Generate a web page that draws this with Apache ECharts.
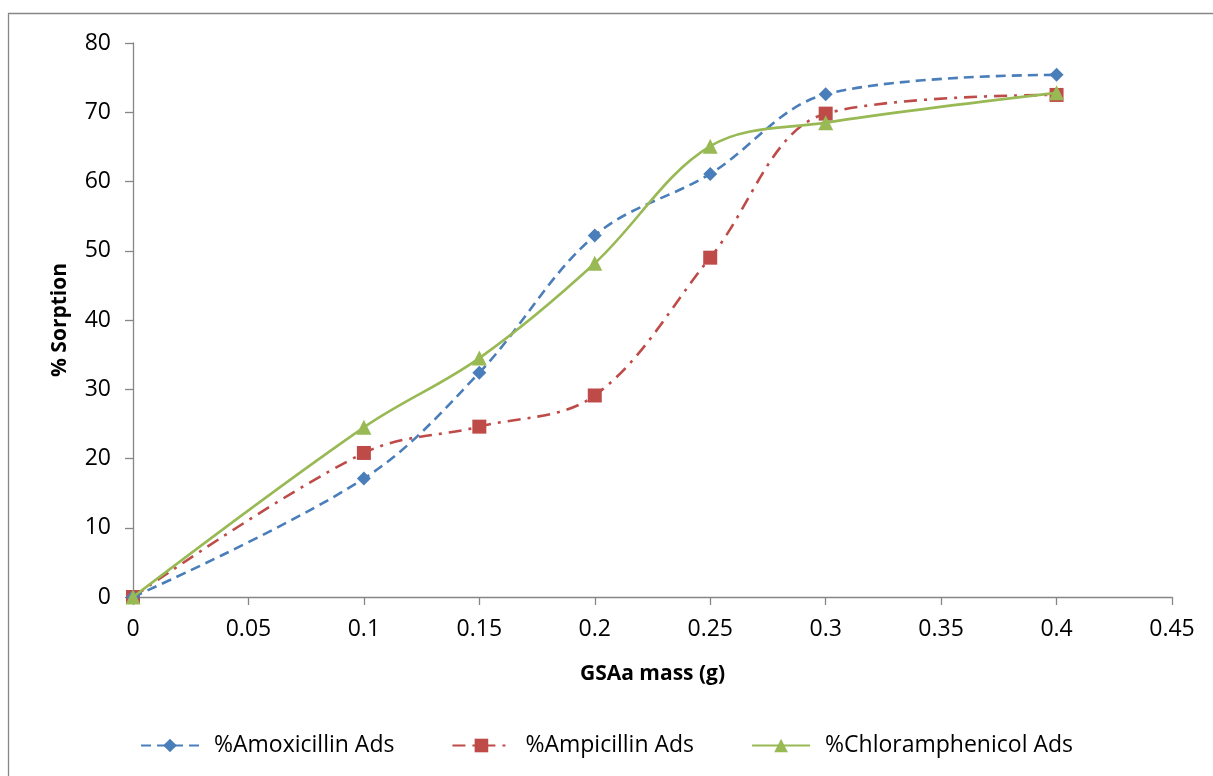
<!DOCTYPE html>
<html>
<head>
<meta charset="utf-8">
<script src="https://cdn.jsdelivr.net/npm/echarts@6/dist/echarts.min.js"></script>
<style>
  html, body { margin: 0; padding: 0; background: #fff; }
  #chart { width: 1213px; height: 776px; }
</style>
</head>
<body>
<div id="chart"></div>
<script>
// GSAa adsorbent mass (g)
const mass = [0, 0.1, 0.15, 0.2, 0.25, 0.3, 0.4];
// % sorption for each antibiotic
const amoxicillin = [0, 17.1, 32.4, 52.2, 61.1, 72.6, 75.4];
const ampicillin = [0, 20.8, 24.6, 29.1, 49.0, 69.8, 72.5];
const chloramphenicol = [0, 24.5, 34.5, 48.2, 65.1, 68.5, 72.8];

const seriesNames = ['%Amoxicillin Ads', '%Ampicillin Ads', '%Chloramphenicol Ads'];

const pairs = ys => mass.map((m, i) => [m, ys[i]]);

const font = 'Open Sans, Lato, sans-serif';
const axisGrey = '#868686';

const chart = echarts.init(document.getElementById('chart'));
chart.setOption({
  backgroundColor: '#fff',
  animation: false,
  graphic: [{
    type: 'rect',
    shape: { x: 8.5, y: 13.5, width: 1300, height: 900 },
    style: { fill: 'none', stroke: '#878787', lineWidth: 1.3 },
    silent: true
  }],
  grid: { left: 133, right: 41, top: 43, bottom: 179 },
  legend: {
    bottom: 14,
    left: 'center',
    itemGap: 57,
    itemWidth: 58,
    itemHeight: 17,
    textStyle: { fontFamily: font, fontSize: 23, color: '#000', padding: [0, 0, 0, 10] },
    data: seriesNames
  },
  xAxis: {
    type: 'value',
    min: 0, max: 0.45, interval: 0.05,
    name: 'GSAa mass (g)',
    nameLocation: 'middle',
    nameGap: 67,
    nameTextStyle: { fontFamily: font, fontSize: 21, fontWeight: 'bold', color: '#000' },
    axisLine: { show: true, lineStyle: { color: axisGrey, width: 1.3 } },
    axisTick: { show: true, length: 8, lineStyle: { color: axisGrey, width: 1.3 } },
    axisLabel: { fontFamily: font, fontSize: 23, color: '#000', margin: 21 },
    splitLine: { show: false }
  },
  yAxis: {
    type: 'value',
    min: 0, max: 80, interval: 10,
    name: '% Sorption',
    nameLocation: 'middle',
    nameGap: 62,
    nameRotate: 90,
    nameTextStyle: { fontFamily: font, fontSize: 21, fontWeight: 'bold', color: '#000' },
    axisLine: { show: true, lineStyle: { color: axisGrey, width: 1.3 } },
    axisTick: { show: true, length: 8, lineStyle: { color: axisGrey, width: 1.3 } },
    axisLabel: { fontFamily: font, fontSize: 23, color: '#000', margin: 22 },
    splitLine: { show: false }
  },
  series: [
    {
      name: seriesNames[0],
      type: 'line',
      smooth: 0.35,
      data: pairs(amoxicillin),
      symbol: 'diamond',
      symbolSize: 14,
      itemStyle: { color: '#4a7ebb' },
      lineStyle: { color: '#4a7ebb', width: 2.6, type: [10, 6] },
      z: 3
    },
    {
      name: seriesNames[1],
      type: 'line',
      smooth: 0.35,
      data: pairs(ampicillin),
      symbol: 'rect',
      symbolSize: 14,
      itemStyle: { color: '#be4b48' },
      lineStyle: { color: '#be4b48', width: 2.6, type: [13, 7, 3, 7] },
      z: 2
    },
    {
      name: seriesNames[2],
      type: 'line',
      smooth: 0.35,
      data: pairs(chloramphenicol),
      symbol: 'triangle',
      symbolSize: 15,
      itemStyle: { color: '#98b954' },
      lineStyle: { color: '#98b954', width: 2.6 },
      z: 4
    }
  ]
});
</script>
</body>
</html>
